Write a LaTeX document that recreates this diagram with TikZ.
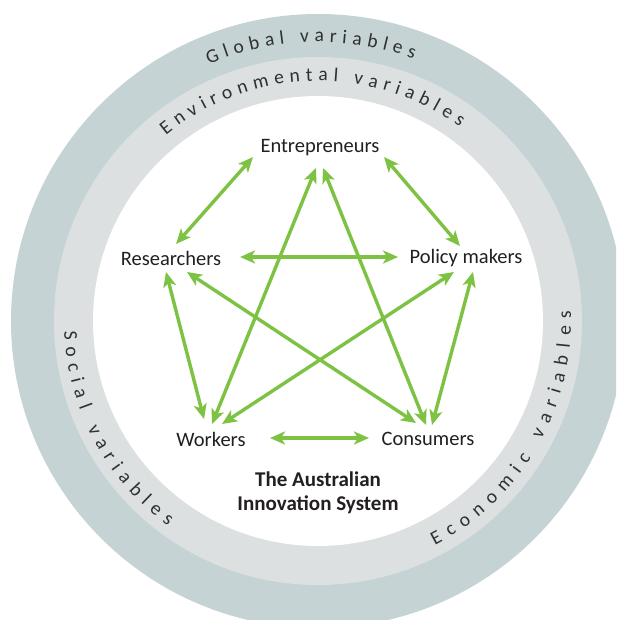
\documentclass[tikz,border=0pt]{standalone}
\usepackage{fontspec}
\setmainfont{Carlito}
\newfontfamily\ringfont{Carlito}
\usetikzlibrary{arrows.meta,calc,decorations.text}
\definecolor{ringdark}{HTML}{C5D3D4}
\definecolor{ringlight}{HTML}{DCE0E1}
\definecolor{arrgreen}{HTML}{7DC242}
\definecolor{labtext}{HTML}{231F20}
\definecolor{ringtext}{HTML}{303030}
\tikzset{
  lab/.style={font=\fontsize{20.5}{24}\selectfont, text=labtext, inner sep=0pt},
  systitle/.style={font=\bfseries\fontsize{21}{24}\selectfont, text=labtext, align=center, inner sep=0pt},
  arr/.style={draw=arrgreen, line width=3.4pt,
    {Stealth[length=15pt,width=13pt,inset=4pt]}-{Stealth[length=15pt,width=13pt,inset=4pt]}},
  ringlabel/.style={decorate, decoration={text along path, text align={fit to path},
    text={|\ringfont\fontsize{19.5}{19.5}\selectfont\color{ringtext}|#1}}}
}
\begin{document}
\begin{tikzpicture}[x=1pt,y=1pt]
\useasboundingbox (0,-620) rectangle (616,0);
\coordinate (c0) at (318,-321);
\begin{scope}
\clip (0,-620) rectangle (616,0);
\fill[ringdark] (c0) circle[radius=307];
\fill[ringlight] (c0) circle[radius=264];
\fill[white] (c0) circle[radius=225];
\end{scope}
% ring labels
\path[ringlabel={Global variables}] ($(c0)+(113:279)$) arc[start angle=113, end angle=70, radius=279];
\path[ringlabel={Environmental variables}] ($(c0)+(129.3:240)$) arc[start angle=129.3, end angle=53.8, radius=240];
\path[ringlabel={Social variables}] ($(c0)+(182.3:254)$) arc[start angle=182.3, end angle=233.8, radius=254];
\path[ringlabel={Economic variables}] ($(c0)+(-62.5:253)$) arc[start angle=-62.5, end angle=2.3, radius=253];
% nodes
\node[lab] (E) at (320,-148) {Entrepreneurs};
\node[lab] (R) at (171,-258) {Researchers};
\node[lab] (P) at (466,-258) {Policy makers};
\node[lab] (W) at (211,-439) {Workers};
\node[lab] (C) at (428,-439) {Consumers};
\node[systitle] (T) at (318,-493) {The Australian\\Innovation System};
% connectors
\draw[arr] ($(E)+(-67,-9)$) -- ($(R)+(5,14)$);
\draw[arr] ($(E)+(64,-9)$) -- ($(P)+(-6,12)$);
\draw[arr] ($(R)+(69,1)$) -- ($(P)+(-68,1)$);
\draw[arr] ($(W)+(59,1)$) -- ($(C)+(-59,1)$);
\draw[arr] ($(E)+(-4,-20)$) -- ($(W)+(1,15)$);
\draw[arr] ($(E)+(3,-20)$) -- ($(C)+(-2,14)$);
\draw[arr] ($(R)+(-5,-14)$) -- ($(W)+(-7,20)$);
\draw[arr] ($(R)+(16,-14)$) -- ($(C)+(-12,16)$);
\draw[arr] ($(P)+(-12,-14)$) -- ($(W)+(11,15)$);
\draw[arr] ($(P)+(7,-14)$) -- ($(C)+(4,14)$);
\end{tikzpicture}
\end{document}
